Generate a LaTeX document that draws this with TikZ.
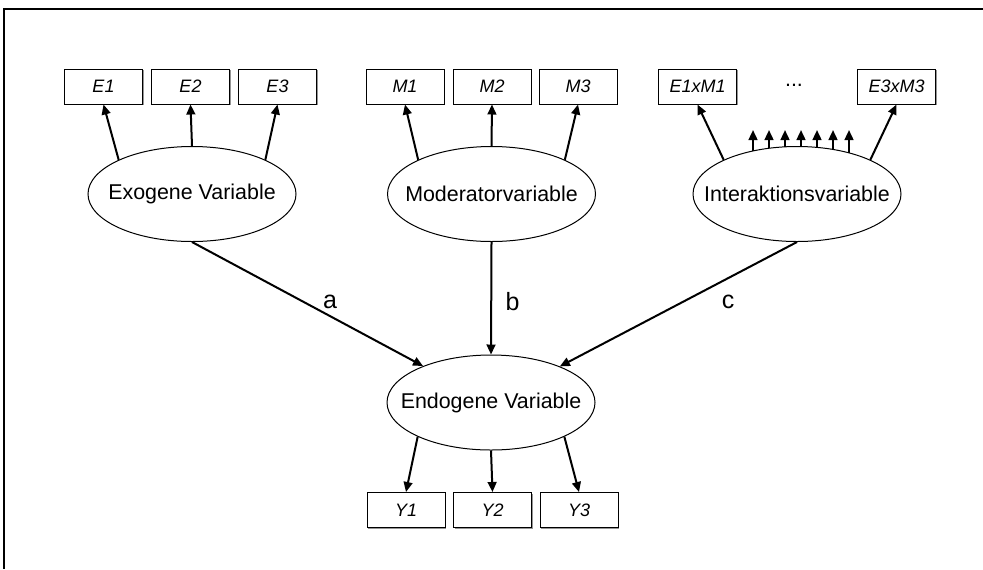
\documentclass[tikz,border=0pt]{standalone}
\usepackage{fontspec}
\setmainfont{Liberation Sans}
\usepackage{xcolor}
\usepackage{tikz}
\usetikzlibrary{shapes.geometric,arrows.meta,shadows}
\definecolor{ink}{HTML}{000000}
\definecolor{shade}{HTML}{7A7A7A}
\tikzset{
  frame/.style={draw=ink, line width=1pt},
  ind/.style={draw=ink, fill=white, line width=0.5pt, minimum width=39pt, minimum height=17.5pt, inner sep=0pt,
    font=\fontsize{9}{11}\selectfont\itshape,
    drop shadow={shadow xshift=0.6pt, shadow yshift=-0.6pt, fill=shade, opacity=0.8}},
  lat/.style={draw=ink, ellipse, line width=0.5pt, minimum width=104pt, minimum height=47.5pt, inner sep=0pt},
  latlab/.style={text=ink, font=\fontsize{10.7}{13}\selectfont},
  arr/.style={draw=ink, line width=1pt, -{Triangle[length=5pt,width=4.4pt]}},
  pathlab/.style={text=ink, font=\fontsize{12.5}{15}\selectfont},
}

\begin{document}
\begin{tikzpicture}[x=0.5pt,y=-0.5pt]
  \useasboundingbox (0,0) rectangle (983,569);
  \coordinate (tr) at (983,9);
  \coordinate (tl) at (4,9);
  \coordinate (bl) at (4,569);
  \draw[frame] (tr) -- (tl) -- (bl); % frame, cut at right and bottom

  % latent variables
  \node[lat,label={[latlab]center:Exogene Variable}] (exo) at (192,194) {};
  \node[lat,label={[latlab]center:Moderatorvariable}] (mod) at (491.5,194) {};
  \node[lat,label={[latlab]center:Interaktionsvariable}] (int) at (797,194) {};
  \node[lat,label={[latlab]center:Endogene Variable}] (endo) at (491,402.5) {};

  % indicators
  \node[ind] (E1) at (103.5,86.5) {E1};
  \node[ind] (E2) at (190.5,86.5) {E2};
  \node[ind] (E3) at (277.5,86.5) {E3};
  \node[ind] (M1) at (405,86.5) {M1};
  \node[ind] (M2) at (492,86.5) {M2};
  \node[ind] (M3) at (578,86.5) {M3};
  \node[ind] (E1xM1) at (697.5,86.5) {E1xM1};
  \node[ind] (E3xM3) at (896.5,86.5) {E3xM3};
  \node[latlab,anchor=base] (dots) at (794,86) {...};
  \node[ind] (Y1) at (406,510) {Y1};
  \node[ind] (Y2) at (492.5,510) {Y2};
  \node[ind] (Y3) at (579,510) {Y3};

  \draw[arr] (exo.155) -- (E1.south);
  \draw[arr] (exo.north) -- (E2.south);
  \draw[arr] (exo.25) -- (E3.south);
  \draw[arr] (mod.155) -- (M1.south);
  \draw[arr] (mod.north) -- (M2.south);
  \draw[arr] (mod.25) -- (M3.south);
  \draw[arr] (int.155) -- (E1xM1.south);
  \draw[arr] (int.25) -- (E3xM3.south);
  \foreach \i in {0,...,6}{
    \pgfmathsetmacro{\xx}{753+16*\i}
    \pgfmathsetmacro{\yy}{194-47.5*sqrt(1-((\xx-797)/104)^2)}
    \coordinate (s\i) at (\xx,\yy);
    \coordinate (t\i) at (\xx,130);
    \draw[arr] (s\i) -- (t\i);
  }

  % structural paths
  \draw[arr] (exo.south) -- (endo);
  \draw[arr] (mod.south) -- (endo.north);
  \draw[arr] (int.south) -- (endo);
  \node[pathlab] (pa) at (330,302) {a};
  \node[pathlab] (pb) at (512.5,302) {b};
  \node[pathlab] (pc) at (728,302) {c};

  \draw[arr] (endo.205) -- (Y1.north);
  \draw[arr] (endo.south) -- (Y2.north);
  \draw[arr] (endo.335) -- (Y3.north);
\end{tikzpicture}
\end{document}
